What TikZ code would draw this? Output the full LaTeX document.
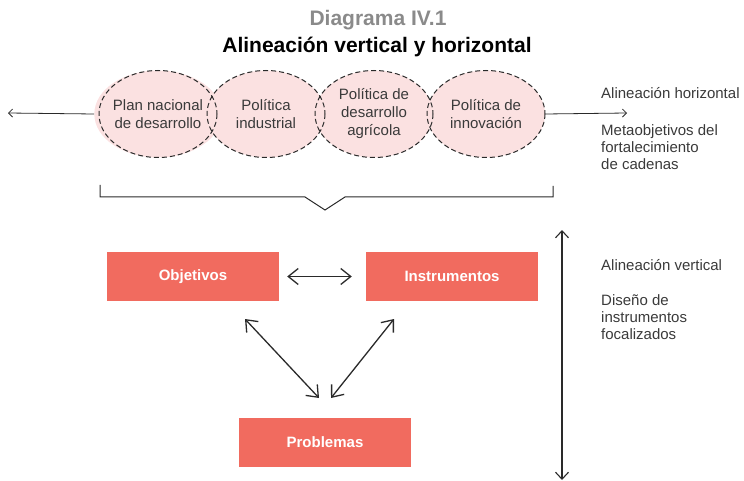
\documentclass[tikz,border=0pt]{standalone}
\usepackage{fontspec}
\setmainfont{Liberation Sans}
\usetikzlibrary{arrows.meta,shapes.geometric}
\definecolor{boxred}{HTML}{F16B5F}
\definecolor{ellfill}{HTML}{FBE1E1}
\definecolor{txt}{HTML}{3A3A3A}
\definecolor{ttlgray}{HTML}{8A8A8A}
\definecolor{linec}{HTML}{2A2A2A}
\begin{document}
\begin{tikzpicture}[x=1pt,y=-1pt,
  ell/.style={ellipse, fill=ellfill, minimum width=118pt, minimum height=87pt,
    inner sep=0pt, align=center, text=txt, font=\fontsize{15}{18}\selectfont},
  ellborder/.style={draw=linec, line width=1pt, dash pattern=on 5pt off 3pt},
  box/.style={rectangle, fill=boxred, minimum width=172pt, minimum height=49pt,
    text=white, font=\bfseries\fontsize{15}{18}\selectfont},
  side/.style={anchor=west, align=left, inner sep=0pt, text=txt, font=\fontsize{15}{17}\selectfont},
  thin arrow/.style={draw=linec, line width=0.8pt, -{Straight Barb[length=4pt,width=8pt]}},
  dbl/.style={draw=linec, line width=1.3pt, {Straight Barb[length=10pt,width=16pt]}-{Straight Barb[length=10pt,width=16pt]}},
  vdbl/.style={draw=linec, line width=1.1pt, {Straight Barb[length=7pt,width=13pt]}-{Straight Barb[length=7pt,width=13pt]}}
]
\useasboundingbox (0,0) rectangle (744,481);

% titles
\node[font=\bfseries\fontsize{21}{24}\selectfont, text=ttlgray] (t1) at (378,20) {Diagrama IV.1};
\node[font=\bfseries\fontsize{21}{24}\selectfont, text=black] (t2) at (377,47) {Alineación vertical y horizontal};

% ellipses
\node[ell] (e1) at (158,114) {Plan nacional\\de desarrollo};
\node[ell] (e2) at (266,114) {Política\\industrial};
\node[ell] (e3) at (374,114) {Política de\\desarrollo\\agrícola};
\node[ell] (e4) at (486,114) {Política de\\innovación};
\foreach \n in {e1,e2,e3,e4}
  \draw[ellborder] (\n.center) ellipse [x radius=59, y radius=43.5];

% horizontal arrows
\coordinate (lt) at (8,113);
\coordinate (rt) at (627,113);
\draw[thin arrow] (e1.west) -- (lt);
\draw[thin arrow] (e4.east) -- (rt);

% bracket
\draw[linec, line width=1pt] (100,185) -- (100,197) -- (305,197) -- (325,210) -- (345,197) -- (553,197) -- (553,186);

% side texts (top)
\node[side] (ah) at (601,93) {Alineación horizontal};
\node[side] (mo) at (601,147) {Metaobjetivos del\\fortalecimiento\\de cadenas};

% boxes
\node[box] (obj) at (193,276.5) {Objetivos};
\node[box] (ins) at (452,276.5) {Instrumentos};
\node[box] (pro) at (325,442.5) {Problemas};

\draw[dbl] ([xshift=8pt]obj.east) -- ([xshift=-14pt]ins.west);
\coordinate (a1) at (245,319);
\coordinate (a2) at (319,398);
\coordinate (b1) at (394,319);
\coordinate (b2) at (331,398);
\draw[dbl] (a1) -- (a2);
\draw[dbl] (b1) -- (b2);

% vertical arrow
\coordinate (vt) at (562,230);
\coordinate (vb) at (562,480);
\draw[vdbl] (vt) -- (vb);

% side texts (bottom)
\node[side] (av) at (601,265) {Alineación vertical};
\node[side] (di) at (601,317) {Diseño de\\instrumentos\\focalizados};
\end{tikzpicture}
\end{document}
